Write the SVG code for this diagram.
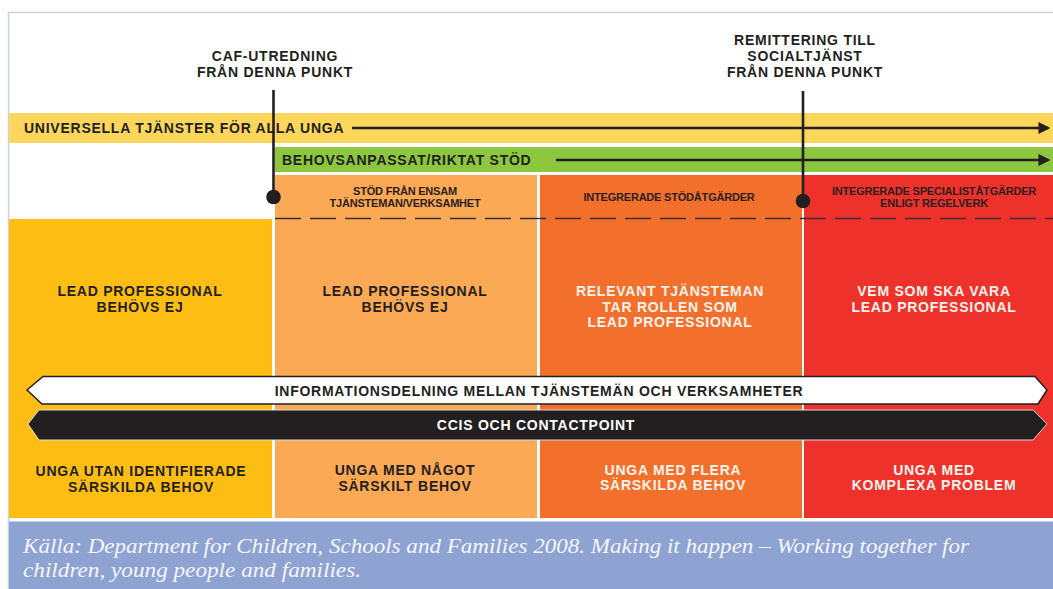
<svg xmlns="http://www.w3.org/2000/svg" width="1053" height="589" viewBox="0 0 1053 589">
<style>
.t{font-family:"Liberation Sans",Arial,sans-serif;font-weight:bold;font-size:14px;letter-spacing:0.75px;fill:#231f20;text-anchor:middle}
.tl{text-anchor:start}
.w{fill:#fff3ec}
.s{font-family:"Liberation Sans",Arial,sans-serif;font-weight:bold;font-size:11px;letter-spacing:-0.2px;fill:#2b2020;text-anchor:middle}
.cap{font-family:"Liberation Serif","Times New Roman",serif;font-style:italic;font-size:22px;fill:#f4f6fc}
.ln{stroke:#231f20;stroke-width:2.6;fill:none}
</style>
<defs>
<marker id="ah" viewBox="0 0 10 10" refX="8" refY="5" markerWidth="4.6" markerHeight="4.6" orient="auto" markerUnits="strokeWidth">
<path d="M0,0 L10,5 L0,10 z" fill="#231f20"/>
</marker>
</defs>
<rect width="1053" height="589" fill="#ffffff"/>
<g id="frame">
<line x1="8" y1="12.5" x2="1053" y2="12.5" stroke="#c6d1ea" stroke-width="1.5"/>
<line x1="8.5" y1="12" x2="8.5" y2="589" stroke="#c6d1ea" stroke-width="1.5"/>
</g>
<g id="col1"><rect x="9" y="219" width="263" height="299" fill="#fdbd13"/>
<text class="t" x="140" y="296">LEAD PROFESSIONAL</text><text class="t" x="140" y="312">BEHÖVS EJ</text>
<text class="t" x="141" y="476">UNGA UTAN IDENTIFIERADE</text><text class="t" x="141" y="491.5">SÄRSKILDA BEHOV</text></g>
<g id="col2"><rect x="275" y="175" width="262" height="343" fill="#fba955"/>
<text class="s" x="405" y="195">STÖD FRÅN ENSAM</text><text class="s" x="405" y="207">TJÄNSTEMAN/VERKSAMHET</text>
<text class="t" x="405" y="296">LEAD PROFESSIONAL</text><text class="t" x="405" y="312">BEHÖVS EJ</text>
<text class="t" x="405" y="475">UNGA MED NÅGOT</text><text class="t" x="405" y="490.5">SÄRSKILT BEHOV</text></g>
<g id="col3"><rect x="540" y="175" width="262" height="343" fill="#f3702c"/>
<text class="s" x="669" y="201">INTEGRERADE STÖDÅTGÄRDER</text>
<text class="t w" x="670" y="296">RELEVANT TJÄNSTEMAN</text><text class="t w" x="670" y="311.5">TAR ROLLEN SOM</text><text class="t w" x="670" y="327">LEAD PROFESSIONAL</text>
<text class="t w" x="673" y="474.5">UNGA MED FLERA</text><text class="t w" x="673" y="490">SÄRSKILDA BEHOV</text></g>
<g id="col4"><rect x="804" y="175" width="249" height="343" fill="#ee322b"/>
<text class="s" x="934" y="195">INTEGRERADE SPECIALISTÅTGÄRDER</text><text class="s" x="934" y="207">ENLIGT REGELVERK</text>
<text class="t w" x="934" y="296">VEM SOM SKA VARA</text><text class="t w" x="934" y="311.5">LEAD PROFESSIONAL</text>
<text class="t w" x="934" y="474.5">UNGA MED</text><text class="t w" x="934" y="490">KOMPLEXA PROBLEM</text></g>
<g id="universal"><rect x="9" y="113" width="1044" height="30" fill="#fed65b"/>
<text class="t tl" x="24" y="133">UNIVERSELLA TJÄNSTER FÖR ALLA UNGA</text></g>
<g id="targeted"><rect x="275" y="147" width="778" height="25" fill="#8dc63f"/>
<text class="t tl" x="282" y="165">BEHOVSANPASSAT/RIKTAT STÖD</text></g>
<g id="caf-label"><text class="t" x="275" y="61">CAF-UTREDNING</text><text class="t" x="275" y="77">FRÅN DENNA PUNKT</text></g>
<g id="remit-label"><text class="t" x="805" y="45">REMITTERING TILL</text><text class="t" x="805" y="61">SOCIALTJÄNST</text><text class="t" x="805" y="77">FRÅN DENNA PUNKT</text></g>
<g id="info-sharing"><polygon points="43,376.5 1035,376.5 1047,390 1038,404 42,404 27,390" fill="#ffffff" stroke="#231f20" stroke-width="1.5"/>
<text class="t" x="539" y="395.5">INFORMATIONSDELNING MELLAN TJÄNSTEMÄN OCH VERKSAMHETER</text></g>
<g id="ccis"><polygon points="39,410 1033,410 1047,424 1033,440 39,440 28,424" fill="#231f20" stroke="#d8d8d8" stroke-width="1"/>
<text class="t" x="536" y="430" style="fill:#ffffff">CCIS OCH CONTACTPOINT</text></g>
<g id="caption"><rect x="9" y="521.5" width="1044" height="67.5" fill="#8fa3d3"/>
<text class="cap" x="23" y="553" textLength="946" lengthAdjust="spacingAndGlyphs">Källa: Department for Children, Schools and Families 2008. Making it happen – Working together for</text>
<text class="cap" x="23" y="577" textLength="338" lengthAdjust="spacingAndGlyphs">children, young people and families.</text></g>
<g id="connectors">
<line x1="273.5" y1="90" x2="273.5" y2="197" class="ln"/>
<circle cx="273.5" cy="197" r="7.3" fill="#231f20"/>
<line x1="803" y1="91" x2="803" y2="201" class="ln"/>
<circle cx="803" cy="201" r="7.3" fill="#231f20"/>
<line x1="352" y1="128" x2="1048" y2="128" class="ln" marker-end="url(#ah)"/>
<line x1="556" y1="160" x2="1048" y2="160" class="ln" marker-end="url(#ah)"/>
<line x1="275" y1="218.5" x2="1053" y2="218.5" stroke="#3a3030" stroke-width="1.5" stroke-dasharray="26 9"/>
</g>
</svg>
